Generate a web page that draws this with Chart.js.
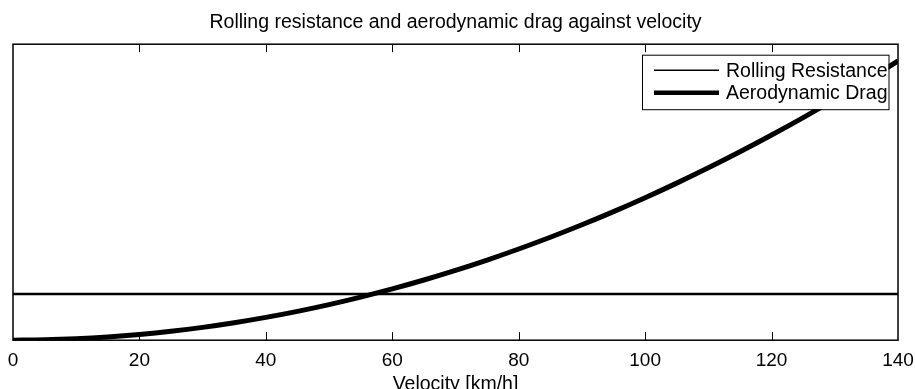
<!DOCTYPE html>
<html>
<head>
<meta charset="utf-8">
<script src="https://cdn.jsdelivr.net/npm/chart.js@4.4.1/dist/chart.umd.min.js"></script>
<style>
  html, body { margin: 0; padding: 0; background: #ffffff; }
  #wrap { width: 915px; height: 389px; position: relative; }
</style>
</head>
<body>
<div id="wrap"><canvas id="c"></canvas></div>
<script>
const chartTitle = 'Rolling resistance and aerodynamic drag against velocity';
const xAxisTitle = 'Velocity [km/h]';
const seriesNames = ['Rolling Resistance', 'Aerodynamic Drag'];
const velocity = [0, 5, 10, 15, 20, 25, 30, 35, 40, 45, 50, 55, 60, 65, 70, 75, 80, 85, 90, 95, 100, 105, 110, 115, 120, 125, 130, 135, 140];
const rollingResistance = [46, 46, 46, 46, 46, 46, 46, 46, 46, 46, 46, 46, 46, 46, 46, 46, 46, 46, 46, 46, 46, 46, 46, 46, 46, 46, 46, 46, 46];
const aerodynamicDrag = [0, 0.36, 1.42, 3.19, 5.67, 8.86, 12.77, 17.38, 22.69, 28.72, 35.46, 42.91, 51.06, 59.93, 69.5, 79.78, 90.78, 102.48, 114.89, 128.01, 141.84, 156.38, 171.62, 187.58, 204.25, 221.62, 239.7, 258.5, 278];
const xTicks = [0, 20, 40, 60, 80, 100, 120, 140];

const FONT = '"Liberation Sans", Arial, Helvetica, sans-serif';

const framePlugin = {
  id: 'frame',
  afterDatasetsDraw(chart) {
    const { ctx, chartArea: a, scales } = chart;
    ctx.save();
    ctx.strokeStyle = '#000';
    ctx.lineWidth = 1;
    xTicks.forEach(v => {
      if (v === 0 || v === 140) return;
      const px = Math.round(scales.x.getPixelForValue(v)) + 0.5;
      ctx.beginPath();
      ctx.moveTo(px, a.bottom); ctx.lineTo(px, a.bottom - 8);
      ctx.moveTo(px, a.top); ctx.lineTo(px, a.top + 8);
      ctx.stroke();
    });
    const bx = a.right - 256, by = a.top + 10.5, bw = 246.5, bh = 54.5;
    ctx.fillStyle = '#fff';
    ctx.fillRect(bx, by, bw, bh);
    ctx.lineWidth = 1;
    ctx.strokeRect(bx + 0.5, by + 0.5, bw, bh);
    const rows = [
      { name: seriesNames[0], w: 1.5, y: by + 15.5 },
      { name: seriesNames[1], w: 4.5, y: by + 38 }
    ];
    ctx.font = '19.5px ' + FONT;
    ctx.textBaseline = 'middle';
    ctx.fillStyle = '#000';
    rows.forEach(r => {
      ctx.beginPath();
      ctx.lineWidth = r.w;
      ctx.lineCap = 'butt';
      ctx.moveTo(bx + 12, r.y); ctx.lineTo(bx + 77, r.y);
      ctx.stroke();
      ctx.fillText(r.name, bx + 84, r.y + 1);
    });
    ctx.lineWidth = 1.5;
    ctx.strokeRect(a.left, a.top, a.right - a.left, a.bottom - a.top);
    ctx.restore();
  }
};

new Chart(document.getElementById('c'), {
  type: 'line',
  data: {
    labels: velocity,
    datasets: [
      {
        label: seriesNames[0],
        data: velocity.map((v, i) => ({ x: v, y: rollingResistance[i] })),
        borderColor: '#000',
        borderWidth: 2.5,
        pointRadius: 0,
        fill: false,
        clip: 0
      },
      {
        label: seriesNames[1],
        data: velocity.map((v, i) => ({ x: v, y: aerodynamicDrag[i] })),
        borderColor: '#000',
        borderWidth: 5,
        pointRadius: 0,
        fill: false,
        cubicInterpolationMode: 'monotone',
        clip: 0
      }
    ]
  },
  options: {
    responsive: true,
    maintainAspectRatio: false,
    animation: false,
    events: [],
    layout: { padding: { left: 13, right: 17, top: 0, bottom: 0 } },
    plugins: {
      legend: { display: false },
      tooltip: { enabled: false },
      title: {
        display: true,
        text: chartTitle,
        color: '#000',
        font: { family: FONT, size: 19.5, weight: 'normal', lineHeight: 1.2 },
        padding: { top: 10.5, bottom: 10.3 }
      }
    },
    scales: {
      x: {
        type: 'linear',
        min: 0,
        max: 140,
        afterBuildTicks(scale) { scale.ticks = xTicks.map(v => ({ value: v })); },
        grid: { display: false, drawTicks: true, tickLength: 8 },
        border: { display: false },
        ticks: {
          color: '#000',
          font: { family: FONT, size: 19 },
          padding: 1,
          maxRotation: 0
        },
        title: {
          display: true,
          text: xAxisTitle,
          color: '#000',
          font: { family: FONT, size: 19.5, lineHeight: 1.2 },
          padding: { top: 0.3, bottom: -7.7 }
        }
      },
      y: {
        display: false,
        min: 0,
        max: 294.7
      }
    }
  },
  plugins: [framePlugin]
});
</script>
</body>
</html>
